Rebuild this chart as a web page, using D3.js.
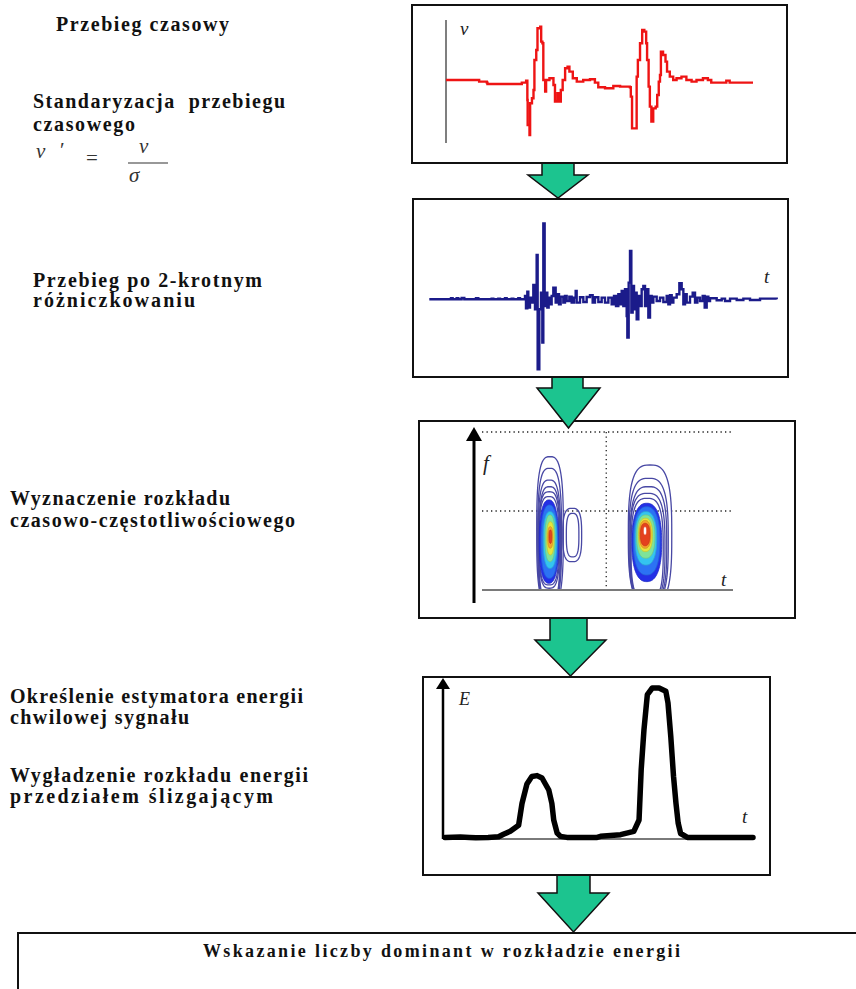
<!DOCTYPE html>
<html>
<head>
<meta charset="utf-8">
<script src="https://cdn.jsdelivr.net/npm/d3@7"></script>
<style>
  html, body { margin: 0; padding: 0; background: #fff; }
  svg { display: block; }
</style>
</head>
<body>
<svg id="chart" width="856" height="989"></svg>
<script>
// ---------------- data ----------------
// Processing steps described on the left
const stepLabels = [
  ["Przebieg czasowy"],
  ["Standaryzacja  przebiegu", "czasowego"],
  ["Przebieg po 2-krotnym", "różniczkowaniu"],
  ["Wyznaczenie rozkładu", "czasowo-częstotliwościowego"],
  ["Określenie estymatora energii", "chwilowej sygnału"],
  ["Wygładzenie rozkładu energii", "przedziałem ślizgającym"]
];
const resultLabel = "Wskazanie liczby dominant w rozkładzie energii";

// Raw vibration record v(t): [t, v]
const rawSignal = [
  [0,0.5],[10.6,0.5],[10.8,0],[13.3,-0.3],[13.5,-0.7],[24.2,-0.7],[24.7,-0.3],[26.1,0.3],
  [26.5,-5.5],[26.6,-13],[27.2,-16],[27.4,-6.5],[28,-5],[28.5,-2.5],[28.8,6.5],[29.4,9.5],
  [29.8,16],[30.7,16.5],[31,12],[31.4,11.5],[31.7,0.5],[32.3,-3],[32.6,0.5],[33.7,1],
  [35,-1],[35.5,-6],[36.3,-3.5],[36.8,-6],[37.4,-2.5],[38,0.5],[38.8,4],[39.6,4.5],
  [40.2,3],[41.3,1],[42.6,0],[44.7,0.5],[46.9,0.7],[48.5,-0.3],[49.6,-1.7],[51.8,-2],
  [54.5,-1.3],[56.7,-1.5],[59.9,-1.7],[60.2,-4.5],[60.6,-14],[61.9,-14],[62.1,1.5],[62.5,6.5],
  [63.2,11.5],[63.9,15.5],[64.6,15],[65.2,11.5],[65.5,6.5],[66,-1.5],[66.4,-7.5],[66.9,-12],
  [67.5,-8],[68.3,-7.5],[68.8,-4],[69.3,0],[69.7,2],[70,9],[70.7,8],[71.5,6],[72,3],
  [72.9,1.5],[74,0.5],[75.1,1],[76.7,1.5],[78.3,0.5],[80,0],[81.6,0.5],[83.7,1],[85.3,0.5],
  [86.4,-0.3],[89.7,-0.3],[91.3,0.3],[92.4,-0.3],[100,-0.3]
];

// Second derivative of the record: [t, v'']
const diffSignal = [
  [5.8,0],[12,0],[12.3,0.3],[12.8,0],[14,0.3],[14.5,0],[15.5,0.4],[16.3,0],[19.5,0],[19.8,0.3],
  [20.5,0],[24,0],[24.5,0.2],[25,0],[26.5,0.2],[27,0],[28.5,0.3],[29,0],[30.5,0.2],[31,0],
  [32.5,0.3],[33,0],[34,0],
  [34.5,1],[34.8,-2.7],[35.2,2.3],[35.5,-2.5],[36,0.5],[36.5,-1],[37,4.3],[37.5,-3],[38,13.3],
  [38.3,-21],[38.8,-3],[39.3,2],[39.7,-13],[40,22.8],[40.4,-2],[40.8,2],[41.2,-2.5],[41.6,0.5],
  [42,-1.5],[42.5,1],[43,3.5],[43.7,-1],[44.2,1.5],[44.7,-1.5],[45.2,0.8],[46,-1],[46.5,1],
  [47,-0.5],[47.8,0.8],[48.5,-1],[49.2,0.5],[49.7,2.5],[50,-1],[51,0.6],[52,-0.8],[53,0.7],
  [54,1.2],[54.8,-1],[55.5,0.6],[56.5,-0.8],[57.5,0.5],[58.5,-1],[59.5,0.5],[60.5,-1.5],
  [61.2,1],[61.8,-2],[62.5,1.5],[63,-1.5],[63.5,2.5],[64,-2],[64.5,3],[65,-5],[65.2,-11.5],
  [65.6,5],[66,14.5],[66.4,-4],[66.8,4],[67.2,-3],[67.6,2],[68,-6],[68.5,1],[69,-2],[69.5,3],
  [70,4],[70.5,-2],[71,3],[71.5,-5.5],[72,1],[72.5,-1],[73,0.8],[74,-0.5],[75,0.5],[76,-0.8],
  [77,1],[77.5,-1.5],[78,1.2],[78.5,-1],[79,0.5],[80,1.5],[80.8,4.8],[81.5,3],[82,-1.5],
  [82.5,1.5],[83,-1],[84,0.8],[84.8,2],[85.5,-1],[86.2,0.5],[87,-0.5],[87.8,1],[88.4,-2.5],
  [89,0.8],[89.5,-0.5],[90,0.3],[92,-0.3],[93.5,0.2],[94.5,-0.5],[96,0.2],[98,-0.2],[100,0.2],
  [102,-0.2],[105,0.2],[110,0]
];

// Time-frequency distribution: contour rings [tStart, tEnd, fLow, fHigh]
const tfBlob1Outline = [
  [21.8,32.4,0,84.4],[22.2,31.7,0,77],[22.4,31.3,0,69.6],[22.7,31.1,0,65.4],
  [22.7,30.9,1.1,62.2],[22.8,30.6,3.2,59.1],
  [32.2,39.7,17.9,51.7],[33.6,38.6,21,48.5]
];
const tfBlob1Levels = [
  [22.8,30.5,4.2,57],[23.5,30.2,7.4,53.8],[24.4,29.8,13.7,49.6],[25.1,29.1,17.9,47.5],
  [25.8,28.7,22.2,43.2],[26.2,28.2,26.4,40.1],[26.7,27.8,29.5,38]
];
const tfBlob2Outline = [
  [58.3,75.6,0,79.1],[58.6,74.2,0,70.7],[59,73.6,0,65.4],[59,72.9,0,61.2],[59.4,72.2,0,58]
];
const tfBlob2Levels = [
  [59.7,71.6,5.3,54.9],[60.3,70.9,9.5,52.7],[61,69.6,15.8,49.6],[61.6,68.9,20.1,47.5],
  [62.3,67.9,24.3,45.4],[62.7,67.3,26.4,44],[63.1,66.9,28,42.2],[64.3,65.6,34.8,40.1]
];

// Smoothed instantaneous energy: [t, E]
const energy = [
  [0,0.4],[5,0.6],[8,0.4],[10,0.2],[14,0.4],[17.4,0.8],[19,2.5],[21.2,4.5],[23.9,8.5],
  [25,23],[26.6,36],[28.2,41],[29.9,41.6],[31.5,40],[33.7,32],[34.7,23],[35.3,12],[36.4,3.3],
  [37.5,1.1],[39.6,0.4],[45,0.4],[49.4,0.4],[50.5,1.1],[57,2.2],[61.3,4.4],[63,12],[63.7,45.6],
  [64.6,72.2],[65.7,95.6],[67.3,100],[69.5,100],[71.7,97.8],[72.4,90],[73.3,67.8],[74.2,41],
  [75,23],[75.7,10],[76.5,3],[78.7,0.4],[100,0.4]
];

// ---------------- drawing ----------------
const svg = d3.select("#chart");
const SERIF = "Liberation Serif, Times New Roman, Tinos, DejaVu Serif, serif";
const ARROW_FILL = "#1cc48f";

svg.append("rect").attr("width", 856).attr("height", 989).attr("fill", "#fff");

// Frames of the processing chain
const frames = [
  { x: 412, y: 5,   w: 375, h: 158 },
  { x: 413, y: 199, w: 375, h: 178 },
  { x: 419, y: 421, w: 376, h: 197 },
  { x: 423, y: 677, w: 347, h: 198 },
  { x: 18,  y: 933, w: 860, h: 90 }
];
svg.append("g").selectAll("rect").data(frames).join("rect")
  .attr("x", d => d.x).attr("y", d => d.y).attr("width", d => d.w).attr("height", d => d.h)
  .attr("fill", "#fff").attr("stroke", "#111").attr("stroke-width", 2);

// Block arrows between frames
const blockArrows = [
  { s0: 542, s1: 574, top: 164, neck: 175, h0: 528, h1: 588, tip: 198 },
  { s0: 552, s1: 583, top: 378, neck: 388, h0: 537, h1: 600, tip: 428 },
  { s0: 550, s1: 587, top: 619, neck: 640, h0: 535, h1: 606, tip: 676 },
  { s0: 557, s1: 590, top: 876, neck: 893, h0: 538, h1: 609, tip: 932 }
];
svg.append("g").selectAll("path").data(blockArrows).join("path")
  .attr("d", a => {
    const mid = (a.h0 + a.h1) / 2;
    return `M${a.s0},${a.top}L${a.s0},${a.neck}L${a.h0},${a.neck}L${mid},${a.tip}` +
           `L${a.h1},${a.neck}L${a.s1},${a.neck}L${a.s1},${a.top}`;
  })
  .attr("fill", ARROW_FILL).attr("stroke", "#111").attr("stroke-width", 1.5)
  .attr("stroke-linejoin", "miter");

// ---- left-hand descriptions ----
const labelLayout = [
  { x: 56, ys: [31], ws: [173] },
  { x: 33, ys: [108, 131], ws: [252, 102] },
  { x: 33, ys: [287, 307], ws: [229, 162] },
  { x: 10, ys: [505, 527], ws: [220, 285] },
  { x: 10, ys: [703, 724], ws: [293, 179] },
  { x: 10, ys: [782, 803], ws: [298, 263] }
];
const labels = svg.append("g").attr("font-family", SERIF).attr("font-weight", "bold")
  .attr("font-size", 20).attr("fill", "#111");
stepLabels.forEach((lines, i) => {
  const L = labelLayout[i];
  lines.forEach((s, j) => {
    labels.append("text").attr("x", L.x).attr("y", L.ys[j])
      .attr("textLength", L.ws[j]).attr("lengthAdjust", "spacing")
      .attr("xml:space", "preserve").text(s);
  });
});

// Standardisation formula  v' = v / sigma
const formula = svg.append("g").attr("font-family", SERIF).attr("font-style", "italic")
  .attr("font-size", 21).attr("fill", "#333");
formula.append("text").attr("x", 36).attr("y", 158).text("v");
formula.append("text").attr("x", 60).attr("y", 157).attr("font-style", "normal").text("′");
formula.append("text").attr("x", 86).attr("y", 165).attr("font-style", "normal").text("=");
formula.append("text").attr("x", 139).attr("y", 153).text("v");
formula.append("line").attr("x1", 128).attr("x2", 168).attr("y1", 163).attr("y2", 163)
  .attr("stroke", "#333").attr("stroke-width", 1.2);
formula.append("text").attr("x", 129).attr("y", 182).text("σ");

// Result text
svg.append("text").attr("x", 203).attr("y", 957)
  .attr("font-family", SERIF).attr("font-weight", "bold").attr("font-size", 18)
  .attr("textLength", 477).attr("lengthAdjust", "spacing").attr("fill", "#111")
  .text(resultLabel);

const axisLabel = (x, y, s, size) => svg.append("text").attr("x", x).attr("y", y)
  .attr("font-family", SERIF).attr("font-style", "italic").attr("font-size", size)
  .attr("fill", "#222").text(s);

// ---- panel 1: raw record ----
{
  const x = d3.scaleLinear([0, 100], [446, 753]);
  const y = d3.scaleLinear([-16, 16], [135, 28.3]);
  svg.append("line").attr("x1", 446).attr("x2", 446).attr("y1", 20).attr("y2", 143)
    .attr("stroke", "#555").attr("stroke-width", 1.5);
  axisLabel(460, 35, "v", 19);
  svg.append("path").datum(rawSignal)
    .attr("d", d3.line().x(d => x(d[0])).y(d => y(d[1])).curve(d3.curveStepAfter))
    .attr("fill", "none").attr("stroke", "#ee1414").attr("stroke-width", 2.4)
    .attr("stroke-linejoin", "miter");
}

// ---- panel 2: second derivative ----
{
  const x = d3.scaleLinear([5.8, 110], [429.3, 776.7]);
  const y = d3.scaleLinear([-25, 25], [382.6, 216]);
  axisLabel(764, 283, "t", 19);
  svg.append("path").datum(diffSignal)
    .attr("d", d3.line().x(d => x(d[0])).y(d => y(d[1])).curve(d3.curveStepAfter))
    .attr("fill", "none").attr("stroke", "#1b1b8a").attr("stroke-width", 2.4);
}

// ---- panel 3: time-frequency contours ----
{
  const x = d3.scaleLinear([0, 100], [482, 733]);
  const y = d3.scaleLinear([0, 100], [590, 432]);
  const g = svg.append("g");

  // dotted reference grid
  const dots = g.append("g").attr("stroke", "#222").attr("stroke-width", 1.3)
    .attr("stroke-dasharray", "1.3,3.2");
  [100, 50].forEach(f => dots.append("line")
    .attr("x1", x(0)).attr("x2", x(100)).attr("y1", y(f)).attr("y2", y(f)));
  dots.append("line").attr("x1", x(49.5)).attr("x2", x(49.5)).attr("y1", y(100)).attr("y2", y(0));

  svg.append("defs").append("clipPath").attr("id", "tfclip")
    .append("rect").attr("x", x(0)).attr("y", y(110)).attr("width", x(100) - x(0))
    .attr("height", y(0) - y(110));

  const ringPath = (r, n) => {
    const [t0, t1, fb, ft] = r;
    const x0 = x(t0), x1 = x(t1), yt = y(ft);
    let yb = y(fb);
    if (fb <= 0) yb += (yb - yt) * 0.12;
    const cx = (x0 + x1) / 2, cy = (yt + yb) / 2, rx = (x1 - x0) / 2, ry = (yb - yt) / 2;
    const pts = d3.range(96).map(i => {
      const a = i / 96 * 2 * Math.PI, c = Math.cos(a), s = Math.sin(a);
      return [cx + rx * Math.sign(c) * Math.pow(Math.abs(c), 2 / n),
              cy + ry * Math.sign(s) * Math.pow(Math.abs(s), 2 / n)];
    });
    return d3.line().curve(d3.curveLinearClosed)(pts);
  };

  const levelColors = ["#2430e6", "#2c72f4", "#34c4f0", "#7ee39a", "#e4e63c", "#f4a42c", "#e4421e", "#ffffff"];
  const cg = g.append("g").attr("clip-path", "url(#tfclip)");
  [[tfBlob1Outline, tfBlob1Levels], [tfBlob2Outline, tfBlob2Levels]].forEach(([outline, levels]) => {
    cg.append("g").selectAll("path").data(outline).join("path")
      .attr("d", r => ringPath(r, 3))
      .attr("fill", "none").attr("stroke", "#4848a4").attr("stroke-width", 1.3);
    cg.append("g").selectAll("path").data(levels).join("path")
      .attr("d", r => ringPath(r, 2.4))
      .attr("fill", (r, i) => levelColors[i])
      .attr("stroke", (r, i) => i === 7 ? "#e4421e" : d3.color(levelColors[i]).darker(0.4))
      .attr("stroke-width", 0.8);
  });

  // baseline and frequency axis
  g.append("line").attr("x1", x(0)).attr("x2", x(100)).attr("y1", y(0)).attr("y2", y(0))
    .attr("stroke", "#7a7a7a").attr("stroke-width", 2);
  g.append("line").attr("x1", 474).attr("x2", 474).attr("y1", 603).attr("y2", 438)
    .attr("stroke", "#000").attr("stroke-width", 3);
  g.append("path").attr("d", "M466,441L482,441L474,427Z").attr("fill", "#000");
  axisLabel(483, 470, "f", 21);
  axisLabel(721, 586, "t", 19);
}

// ---- panel 4: smoothed energy ----
{
  const x = d3.scaleLinear([0, 100], [445, 753]);
  const y = d3.scaleLinear([0, 100], [838, 688]);
  svg.append("line").attr("x1", 443).attr("x2", 752).attr("y1", 839).attr("y2", 839)
    .attr("stroke", "#7a7a7a").attr("stroke-width", 2);
  svg.append("line").attr("x1", 443).attr("x2", 443).attr("y1", 839).attr("y2", 686)
    .attr("stroke", "#000").attr("stroke-width", 2.5);
  svg.append("path").attr("d", "M436,689L450,689L443,678Z").attr("fill", "#000");
  axisLabel(459, 705, "E", 18);
  axisLabel(742, 823, "t", 19);
  svg.append("path").datum(energy)
    .attr("d", d3.line().x(d => x(d[0])).y(d => y(d[1])))
    .attr("fill", "none").attr("stroke", "#000").attr("stroke-width", 5.5)
    .attr("stroke-linejoin", "round").attr("stroke-linecap", "round");
}
</script>
</body>
</html>
